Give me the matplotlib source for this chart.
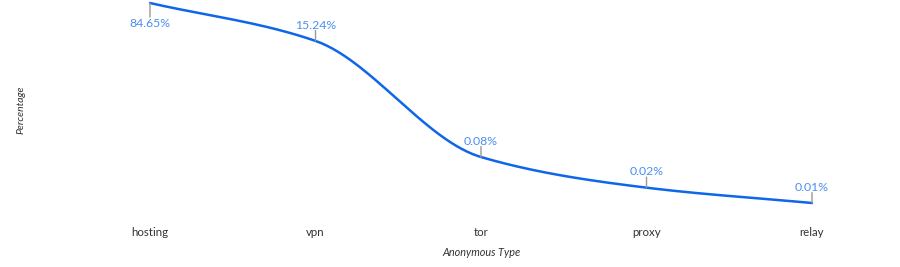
import numpy as np
import matplotlib
matplotlib.use('Agg')
import matplotlib.pyplot as plt

categories = ['hosting', 'vpn', 'tor', 'proxy', 'relay']
percentages = [84.65, 15.24, 0.08, 0.02, 0.01]
labels = ['84.65%', '15.24%', '0.08%', '0.02%', '0.01%']


def monotone_curve(x, y, n=60):
    # monotone cubic (Fritsch-Carlson), same idea as d3 curveMonotoneX
    x = np.asarray(x, float)
    y = np.asarray(y, float)
    h = np.diff(x)
    d = np.diff(y) / h
    m = np.zeros_like(y)
    m[0] = d[0]
    m[-1] = d[-1]
    for i in range(1, len(y) - 1):
        if d[i - 1] * d[i] <= 0:
            m[i] = 0
        else:
            w1 = 2 * h[i] + h[i - 1]
            w2 = h[i] + 2 * h[i - 1]
            m[i] = (w1 + w2) / (w1 / d[i - 1] + w2 / d[i])
    xs, ys = [], []
    for i in range(len(x) - 1):
        t = np.linspace(0, 1, n)
        h00 = 2 * t**3 - 3 * t**2 + 1
        h10 = t**3 - 2 * t**2 + t
        h01 = -2 * t**3 + 3 * t**2
        h11 = t**3 - t**2
        xs.append(x[i] + t * h[i])
        ys.append(h00 * y[i] + h10 * h[i] * m[i] + h01 * y[i + 1] + h11 * h[i] * m[i + 1])
    return np.concatenate(xs), np.concatenate(ys)


plt.rcParams['font.family'] = ['Lato', 'DejaVu Sans']

fig = plt.figure(figsize=(9, 2.67), dpi=100)
ax = fig.add_axes([150 / 900, (267 - 203) / 267, (812 - 150) / 900, 200 / 267])

xi = np.arange(len(categories))
logy = np.log10(percentages)
cx, cy = monotone_curve(xi, logy)
ax.plot(cx, 10 ** cy, color='#0f66e8', lw=1.8, clip_on=False, solid_capstyle='round')

ax.set_yscale('log')
ax.set_xlim(0, len(categories) - 1)
ax.set_ylim(min(percentages), max(percentages))

for i, (v, lab) in enumerate(zip(percentages, labels)):
    if i == 0:
        ax.annotate('', xy=(i, v), xytext=(0, -10), textcoords='offset points',
                    arrowprops=dict(arrowstyle='-', color='#999999', lw=1, shrinkA=0, shrinkB=0),
                    annotation_clip=False)
        ax.annotate(lab, xy=(i, v), xytext=(0, -11), textcoords='offset points',
                    ha='center', va='top', color='#4a8ff0', fontsize=8.8, annotation_clip=False)
    else:
        ax.annotate('', xy=(i, v), xytext=(0, 7.5), textcoords='offset points',
                    arrowprops=dict(arrowstyle='-', color='#999999', lw=1, shrinkA=0, shrinkB=0),
                    annotation_clip=False)
        ax.annotate(lab, xy=(i, v), xytext=(0, 7.5), textcoords='offset points',
                    ha='center', va='bottom', color='#4a8ff0', fontsize=8.8, annotation_clip=False)

ax.set_xticks(xi)
ax.set_xticklabels(categories, fontsize=8.3, color='#333333')
ax.tick_params(axis='x', length=0, pad=17)
ax.set_yticks([])
ax.yaxis.set_minor_locator(matplotlib.ticker.NullLocator())
for s in ax.spines.values():
    s.set_visible(False)

fig.text(481 / 900, 1 - 252 / 267, 'Anonymous Type', ha='center', va='center',
         fontsize=7.8, style='italic', color='#333333')
fig.text(21 / 900, 1 - 110 / 267, 'Percentage', ha='center', va='center',
         fontsize=7.5, style='italic', color='#333333', rotation=90)

fig.savefig('out.png', dpi=100)
